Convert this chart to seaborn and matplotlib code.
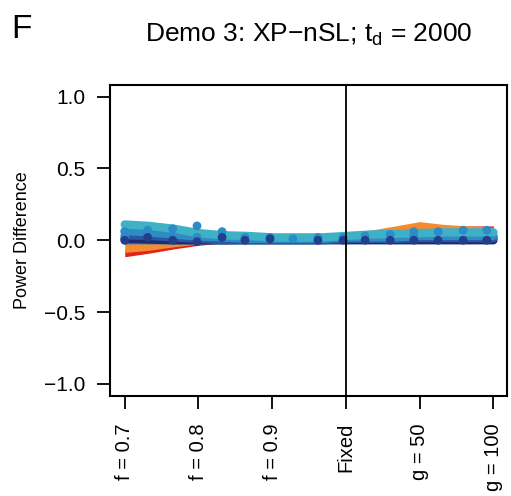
import numpy as np
import pandas as pd
import matplotlib
matplotlib.use("Agg")
import matplotlib.pyplot as plt
import seaborn as sns

# ---- data ----
tick_labels = ["f = 0.7", "f = 0.8", "f = 0.9", "Fixed", "g = 50", "g = 100"]
x_pos = [0.0, 0.33, 0.67, 1.0, 1.33, 1.67, 2.0, 2.33, 2.67, 3.0,
         3.33, 3.67, 4.0, 4.33, 4.67, 5.0]
red_lo = [-0.115, -0.09, -0.06, -0.035, -0.02, -0.01, 0.0, 0.0, 0.005, 0.01,
          0.01, 0.02, 0.03, 0.04, 0.05, 0.05]
red_hi = [-0.065, -0.05, -0.035, -0.015, 0.0, 0.012, 0.022, 0.028, 0.028, 0.03,
          0.04, 0.06, 0.08, 0.09, 0.1, 0.1]
orange_lo = [-0.085, -0.07, -0.045, -0.025, -0.01, 0.0, 0.0, 0.0, 0.0, 0.01,
             0.02, 0.04, 0.06, 0.06, 0.06, 0.06]
orange_hi = [-0.02, -0.015, -0.005, 0.0, 0.01, 0.015, 0.015, 0.015, 0.015, 0.03,
             0.07, 0.10, 0.13, 0.11, 0.10, 0.09]
navy = [0.01, 0.005, 0.0, 0.0, 0.0, 0.0, 0.0, 0.0, 0.0, 0.0,
        0.0, 0.0, 0.0, 0.0, 0.0, 0.0]
royal = [0.035, 0.03, 0.02, 0.01, 0.0, 0.0, 0.0, 0.0, 0.0, 0.01,
         0.01, 0.01, 0.015, 0.015, 0.015, 0.015]
blue = [0.065, 0.055, 0.04, 0.025, 0.02, 0.01, 0.01, 0.01, 0.01, 0.02,
        0.02, 0.02, 0.03, 0.03, 0.03, 0.03]
teal = [0.0, 0.0, 0.0, 0.0, 0.0, 0.005, 0.005, 0.01, 0.01, 0.01,
        0.02, 0.02, 0.025, 0.025, 0.025, 0.025]
cyan = [0.11, 0.1, 0.08, 0.05, 0.035, 0.03, 0.02, 0.02, 0.02, 0.03,
        0.04, 0.045, 0.05, 0.055, 0.055, 0.055]
dots_x = [0.0, 0.0, 0.0, 0.31, 0.31, 0.65, 0.65, 0.65, 0.98, 0.98, 0.98,
          1.32, 1.32, 1.63, 1.63, 1.97, 1.97, 2.28, 2.62, 2.62, 2.96, 2.96,
          3.26, 3.26, 3.6, 3.6, 3.92, 3.92, 3.92, 4.25, 4.25, 4.59, 4.59, 4.91, 4.91]
dots_y = [0.06, 0.02, 0.0, 0.07, 0.02, 0.08, 0.03, 0.0, 0.10, 0.02, -0.01,
          0.06, 0.02, 0.02, 0.0, 0.02, 0.01, 0.01, 0.02, 0.0, 0.02, 0.0,
          0.03, 0.0, 0.04, 0.0, 0.06, 0.03, 0.0, 0.06, 0.0, 0.07, 0.0, 0.07, 0.0]
dots_dark = [False, False, True, False, True, False, False, True, False, False, True,
             False, True, False, True, False, True, False, False, True, False, True,
             False, True, False, True, False, False, True, False, True, False, True,
             False, True]

sns.set_theme(style="white")
plt.rcParams['font.family'] = ['Liberation Sans', 'DejaVu Sans']
plt.rcParams['mathtext.fontset'] = 'custom'
plt.rcParams['mathtext.rm'] = 'Liberation Sans'
for k in ['text.color', 'axes.labelcolor', 'xtick.color', 'ytick.color']:
    plt.rcParams[k] = 'black'

fig = plt.figure(figsize=(5.11, 4.96), dpi=100)
ax = fig.add_axes([0.2153, 0.2016, 0.9916 - 0.2153, 0.8296 - 0.2016])

ax.fill_between(x_pos, red_lo, red_hi, color="#E2231A", lw=0, zorder=2)
ax.fill_between(x_pos, orange_lo, orange_hi, color="#F58A2E", lw=0, zorder=2.1)

line_specs = [(teal, "#2F7FC0"), (navy, "#1D2C6E"), (royal, "#2A56A6"),
              (blue, "#2F8CC3"), (cyan, "#3FB1C7")]
for i, (vals, col) in enumerate(line_specs):
    d = pd.DataFrame({"x": x_pos, "y": vals})
    sns.lineplot(data=d, x="x", y="y", color=col, linewidth=6.0, ax=ax,
                 zorder=3 + i * 0.1, solid_capstyle="round")

dd = pd.DataFrame({"x": dots_x, "y": dots_y,
                   "kind": ["dark" if k else "light" for k in dots_dark]})
sns.scatterplot(data=dd, x="x", y="y", hue="kind",
                palette={"light": "#2B8CC8", "dark": "#233F8C"}, s=40, linewidth=0,
                ax=ax, zorder=5, legend=False)

ax.axvline(3, color="black", lw=1.3, zorder=6)
ax.set_xlim(-0.2, 5.18)
ax.set_ylim(-1.085, 1.085)
ax.set_xticks(range(6))
ax.set_xticklabels(tick_labels, rotation=90, fontsize=14.5)
ax.set_yticks([-1.0, -0.5, 0.0, 0.5, 1.0])
ax.set_yticklabels(["\u22121.0", "\u22120.5", "0.0", "0.5", "1.0"], fontsize=15)
ax.tick_params(axis="both", direction="out", length=9.5, width=1.3, colors="black",
               left=True, bottom=True)
ax.tick_params(axis="y", pad=8)
ax.tick_params(axis="x", pad=10)
for s in ax.spines.values():
    s.set_linewidth(1.5)
    s.set_color("black")
ax.set_xlabel("")
ax.set_ylabel("Power Difference", fontsize=13, color="black")
ax.yaxis.set_label_coords(-0.2, 0.5)
ax.set_title(r"Demo 3: XP$-$nSL; $\mathregular{t_d}$ = 2000", fontsize=19, pad=31,
             color="black")
fig.text(0.022, 0.94, "F", fontsize=24, ha="left", va="center", color="black")

fig.savefig("out.png", dpi=100)
